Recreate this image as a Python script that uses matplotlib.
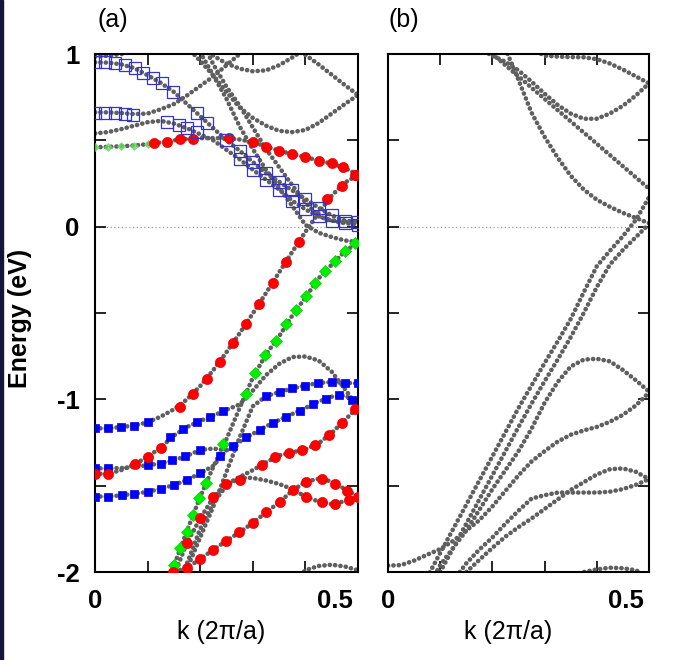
import numpy as np
import matplotlib
matplotlib.use("Agg")
import matplotlib.pyplot as plt
import matplotlib.transforms as mtransforms
from matplotlib.patches import Rectangle

plt.rcParams['font.family'] = ['Liberation Sans', 'DejaVu Sans']

n = np.nan
K = np.linspace(0, 0.5, 21)  # k grid, step 0.025

# ---------------- panel (a): bands (gray dots) ----------------
a_P = [-1.168, -1.168, -1.160, -1.152, -1.133, -1.100, -1.058, -1.000, -0.923, -0.830, -0.727,
       -0.617, -0.503, -0.385, -0.265, -0.146, -0.030, 0.080, 0.180, 0.255, 0.300]
a_X = [-1.432, -1.430, -1.410, -1.376, -1.333, -1.279, -1.210, -1.160, -1.125, -1.095, -1.060,
       -1.030, -0.950, -0.860, -0.795, -0.755, -0.752, -0.775, -0.840, -0.940, -1.045]
a_Y = [-1.400, -1.400, -1.398, -1.392, -1.381, -1.372, -1.353, -1.327, -1.293, -1.285, -1.295,
       n, n, n, n, n, n, n, n, n, n]
a_B3 = [-1.563, -1.563, -1.556, -1.547, -1.536, -1.518, -1.497, -1.466, -1.429, -1.385, -1.295,
        -1.245, -1.200, -1.157, -1.120, -1.085, -1.050, -1.013, -0.985, -0.978, -1.015]
a_D3 = [n, n, n, n, n, n, -2.16, -1.98, -1.80, -1.62, -1.42,
        -1.22, -1.04, -0.982, -0.958, -0.937, -0.920, -0.905, -0.900, -0.904, -0.908]
a_G = [n, n, n, n, n, -2.15, -1.965, -1.76, -1.565, -1.39, -1.23,
       -1.05, -0.875, -0.74, -0.635, -0.515, -0.41, -0.30, -0.22, -0.143, -0.09]
a_R3 = [n, n, n, n, n, -2.04, -2.0, -1.976, -1.925, -1.871, -1.819,
        -1.770, -1.716, -1.655, -1.597, -1.530, -1.478, -1.460, -1.475, -1.520, -1.563]
a_R5 = [n, n, n, n, n, -2.25, -2.02, -1.83, -1.69, -1.568, -1.491,
        -1.450, -1.410, -1.365, -1.325, -1.307, -1.290, -1.255, -1.195, -1.120, -1.045]
a_H = [n, n, n, n, n, n, -2.15, -1.95, -1.75, -1.60, -1.50,
       -1.455, -1.455, -1.470, -1.490, -1.520, -1.563, -1.592, -1.607, -1.590, -1.563]
a_low = [n, n, n, n, n, n, n, n, n, n, n, n, n, n, n,
         -2.06, -1.99, -1.965, -1.958, -1.968, -1.99]
a_Rt = [0.460, 0.462, 0.466, 0.470, 0.478, 0.488, 0.500, 0.508, 0.513, 0.513, 0.512,
        0.505, 0.490, 0.465, 0.440, 0.420, 0.403, 0.383, 0.365, 0.340, 0.300]
a_G2 = [0.540, 0.548, 0.565, 0.585, 0.605, 0.613, 0.597, 0.570, 0.535, 0.500, 0.445,
        0.390, 0.330, 0.272, 0.215, 0.150, 0.100, 0.060, 0.035, 0.020, 0.012]
a_S1 = [0.952, 0.950, 0.940, 0.918, 0.877, 0.833, 0.780, 0.710, 0.640, 0.570, 0.500,
        0.440, 0.375, 0.310, 0.260, 0.210, 0.160, 0.110, 0.065, 0.035, 0.025]
a_F = [0.662, 0.662, 0.658, 0.652, 0.655, 0.680, 0.710, 0.760, 0.815, 0.870, 0.935,
       1.000, 1.060, n, n, n, n, n, n, n, n]
a_A1 = [0.985, 0.990, 1.000, 1.015, 1.040, n, n, n, n, n, n, n, n, n, n, n, n, n, n, n, n]
a_U1 = [n, n, n, n, n, n, n, n, 1.05, 0.99, 0.945, 0.915, 0.900, 0.905, 0.935, 0.980, 1.030,
        n, n, n, n]
a_T = [n, n, n, n, n, n, n, n, n, n, n, n, n, n, n, 1.05, 0.995, 0.940, 0.880, 0.820, 0.763]
a_U2 = [n, n, n, n, n, n, n, 1.04, 0.960, 0.875, 0.780, 0.690, 0.630, 0.585, 0.555, 0.548,
        0.560, 0.600, 0.655, 0.710, 0.763]
a_D1 = [n, n, n, n, n, n, n, n, 1.01, 0.875, 0.740, 0.580, 0.450, 0.330, 0.225, 0.120, 0.010,
        -0.035, -0.060, -0.080, -0.090]
a_D2 = [n, n, n, n, n, n, n, n, 1.09, 0.940, 0.810, 0.700, 0.575, 0.450, 0.345, 0.240, 0.140,
        0.060, 0.035, 0.030, 0.030]
bands_a = [a_P, a_X, a_Y, a_B3, a_D3, a_G, a_R3, a_R5, a_H, a_low, a_Rt, a_G2, a_S1, a_F,
           a_A1, a_U1, a_T, a_U2, a_D1, a_D2]

# ---------------- panel (a): projected character markers ----------------
red_P_k = [0.162, 0.187, 0.212, 0.238, 0.263, 0.287, 0.312, 0.338, 0.363, 0.387, 0.442, 0.469, 0.494]
red_P_E = [-1.042, -0.967, -0.880, -0.782, -0.672, -0.561, -0.445, -0.326, -0.204, -0.086, 0.160, 0.233, 0.300]
red_Rt_k = [0.112, 0.137, 0.162, 0.187, 0.255, 0.300, 0.325, 0.349, 0.374, 0.400, 0.425, 0.450, 0.472, 0.497]
red_Rt_E = [0.484, 0.493, 0.507, 0.510, 0.513, 0.490, 0.464, 0.441, 0.422, 0.403, 0.383, 0.368, 0.345, 0.300]
red_X_k = [0.0, 0.025, 0.076, 0.101, 0.126]
red_X_E = [-1.434, -1.430, -1.376, -1.333, -1.279]
red_R3_k = [0.149, 0.174, 0.200, 0.225, 0.250, 0.274, 0.300, 0.325, 0.351, 0.377, 0.402, 0.431, 0.456, 0.479, 0.500]
red_R3_E = [-2.000, -1.979, -1.925, -1.871, -1.819, -1.771, -1.716, -1.655, -1.597, -1.524, -1.478, -1.459,
            -1.491, -1.530, -1.563]
red_H_k = [0.402, 0.431, 0.456, 0.482]
red_H_E = [-1.563, -1.597, -1.607, -1.582]
red_R5_k = [0.174, 0.200, 0.225, 0.250, 0.276, 0.317, 0.342, 0.368, 0.393, 0.418, 0.444, 0.469, 0.494]
red_R5_E = [-1.830, -1.690, -1.568, -1.491, -1.466, -1.381, -1.333, -1.312, -1.293, -1.266, -1.208, -1.135, -1.054]

blue_top_k = [0.0, 0.025, 0.05, 0.075, 0.1]
blue_top_E = [-1.168, -1.168, -1.160, -1.152, -1.133]
blue_Y_k = [0.0, 0.025, 0.100, 0.126, 0.146, 0.171, 0.200]
blue_Y_E = [-1.400, -1.400, -1.381, -1.372, -1.353, -1.327, -1.293]
blue_X_k = [0.143, 0.168, 0.193, 0.219, 0.244]
blue_X_E = [-1.221, -1.170, -1.131, -1.100, -1.067]
blue_row_k = [0.326, 0.352, 0.374, 0.399, 0.424, 0.450, 0.475, 0.500]
blue_row_E = [-0.981, -0.956, -0.937, -0.920, -0.904, -0.900, -0.904, -0.908]
blue_B3_k = [0.0, 0.025, 0.051, 0.075, 0.100, 0.126, 0.151, 0.175, 0.200, 0.238, 0.263, 0.287, 0.313,
             0.338, 0.363, 0.389, 0.414, 0.439, 0.463, 0.488]
blue_B3_E = [-1.563, -1.563, -1.556, -1.547, -1.536, -1.518, -1.497, -1.466, -1.429, -1.331, -1.270,
             -1.221, -1.179, -1.135, -1.102, -1.067, -1.029, -0.996, -0.977, -1.004]

green_G_k = [0.151, 0.162, 0.174, 0.187, 0.198, 0.211, 0.244, 0.287, 0.304, 0.323, 0.344, 0.363, 0.382,
             0.401, 0.418, 0.437, 0.456, 0.475, 0.494]
green_G_E = [-1.960, -1.863, -1.767, -1.670, -1.574, -1.482, -1.260, -0.970, -0.846, -0.746, -0.663,
             -0.566, -0.480, -0.403, -0.326, -0.258, -0.200, -0.143, -0.094]
green_Rt_k = [0.0, 0.025, 0.05, 0.075, 0.1]
green_Rt_E = [0.460, 0.462, 0.466, 0.470, 0.478]

os_S1_k = [0.0, 0.019, 0.038, 0.057, 0.076, 0.092, 0.111, 0.127, 0.149, 0.193, 0.212]
os_S1_E = [0.952, 0.952, 0.945, 0.936, 0.917, 0.888, 0.859, 0.830, 0.782, 0.657, 0.600]
os_F_k = [0.0, 0.019, 0.038, 0.057, 0.073]
os_F_E = [0.661, 0.661, 0.658, 0.655, 0.647]
os_G2_k = [0.136, 0.159, 0.174, 0.193]
os_G2_E = [0.609, 0.590, 0.571, 0.547]

# ---------------- panel (b): bands ----------------
b_U = [n, n, n, n, n, n, n, 1.03, 0.990, 0.955, 0.905, 0.840, 0.770, 0.705, 0.655, 0.625,
       0.625, 0.655, 0.700, 0.760, 0.830]
b_L1 = [n, n, n, n, n, n, n, n, 1.0, 0.935, 0.870, 0.805, 0.740, 0.675, 0.610, 0.545,
        0.480, 0.415, 0.350, 0.285, 0.220]
b_T = [n, n, n, n, n, n, n, n, n, n, n, 1.03, 0.990, 0.985, 0.982, 0.981, 0.970, 0.945, 0.910, 0.870, 0.830]
b_L2 = [n, n, n, n, n, n, n, n, n, 1.03, 0.850, 0.660, 0.520, 0.400, 0.295, 0.215, 0.156, 0.115,
        0.080, 0.050, 0.020]
b_M1 = [n, n, n, -2.03, -1.89, -1.75, -1.61, -1.47, -1.33, -1.19, -1.05, -0.92, -0.79, -0.665,
        -0.535, -0.38, -0.229, -0.14, -0.055, 0.04, 0.17]
b_M2 = [n, n, n, n, -2.0, -1.86, -1.72, -1.58, -1.44, -1.30, -1.16, -1.025, -0.895, -0.77,
        -0.64, -0.50, -0.35, -0.22, -0.135, -0.06, 0.015]
b_Hb = [n, n, n, -2.1, -1.96, -1.86, -1.76, -1.64, -1.52, -1.41, -1.30, -1.17, -1.02, -0.90,
        -0.81, -0.77, -0.765, -0.78, -0.83, -0.89, -0.955]
b_N = [-1.963, -1.960, -1.934, -1.900, -1.867, -1.820, -1.760, -1.700, -1.620, -1.530, -1.440,
       -1.360, -1.300, -1.245, -1.205, -1.180, -1.160, -1.130, -1.090, -1.035, -0.961]
b_R = [n, n, n, n, n, -2.05, -1.95, -1.87, -1.80, -1.72, -1.645, -1.575, -1.555, -1.540,
       -1.540, -1.540, -1.540, -1.535, -1.520, -1.495, -1.462]
b_S = [n, n, n, n, n, n, -2.00, -1.93, -1.86, -1.795, -1.74, -1.69, -1.635, -1.58, -1.525,
       -1.48, -1.435, -1.405, -1.400, -1.420, -1.462]
b_low = [n, n, n, n, n, n, n, n, n, n, n, n, n, n, -2.05, -2.0, -1.985, -1.975, -1.978, -1.99, -2.03]
bands_b = [b_U, b_L1, b_T, b_L2, b_M1, b_M2, b_Hb, b_N, b_R, b_S, b_low]

# ---------------- styles ----------------
dots = dict(color='#5f5f5f', lw=3.3, ls=(0, (0.05, 1.12)), dash_capstyle='round', zorder=2)
red = dict(ls='none', marker='o', ms=7.3, mfc='#ff0000', mec='#ee0000', mew=0.5, zorder=4)
blue = dict(ls='none', marker='s', ms=6.4, mfc='#0000ff', mec='#0000e8', mew=0.5, zorder=4)
green = dict(ls='none', marker='D', ms=5.8, mfc='#00ee00', mec='#00d800', mew=0.5, zorder=4)
green_l = dict(ls='none', marker='D', ms=4.5, mfc='#66dd66', mec='#66dd66', mew=0.5, zorder=4, alpha=0.8)
osq = dict(ls='none', marker='s', ms=8.0, mfc='none', mec='#3535c0', mew=0.9, zorder=5)

fig = plt.figure(figsize=(6.76, 6.6), dpi=100)
fig.patches.append(Rectangle((0, 0), 3 / 676, 1, transform=fig.transFigure,
                             color='#15153a', zorder=0))
ax_a = fig.add_axes([95 / 676, 1 - 572 / 660, 263 / 676, 518 / 660])
ax_b = fig.add_axes([388 / 676, 1 - 572 / 660, 261 / 676, 518 / 660])

for ax in (ax_a, ax_b):
    ax.set_xlim(0, 0.5)
    ax.set_ylim(-2, 1)
    ax.axhline(0, color='#9a9a9a', lw=0.9, ls=(0, (1, 2)), zorder=1)
    ax.set_xticks(np.arange(0, 0.51, 0.1))
    ax.set_xticklabels(['0', '', '', '', '', '0.5'], fontweight='bold')
    ax.set_yticks(np.arange(-2, 1.01, 0.5))
    ax.tick_params(direction='in', length=8, width=1.2, top=True, right=True,
                   labelsize=18.5)
    ax.tick_params(axis='x', pad=12)
    ax.tick_params(axis='y', pad=11)
    for sp in ax.spines.values():
        sp.set_linewidth(1.5)
    shift = mtransforms.ScaledTranslation(-4 / 72, 0, fig.dpi_scale_trans)
    lbl = ax.get_xticklabels()[-1]
    lbl.set_ha('right')
    lbl.set_transform(lbl.get_transform() + shift)

ax_a.set_yticklabels(['-2', '', '-1', '', '0', '', '1'], fontweight='bold')
ax_b.set_yticklabels([])

for E in bands_a:
    ax_a.plot(K, E, **dots)
for E in bands_b:
    ax_b.plot(K, E, **dots)

# markers on (a)
ax_a.plot(os_S1_k, os_S1_E, **osq)
ax_a.plot(os_F_k, os_F_E, **osq)
ax_a.plot(os_G2_k, os_G2_E, **osq)
ax_a.plot(K[10:], np.array(a_S1)[10:], **osq)
ax_a.plot(K[11:], np.array(a_G2)[11:], **osq)

ax_a.plot(green_Rt_k, green_Rt_E, **green_l)
ax_a.plot(green_G_k, green_G_E, **green)

ax_a.plot(blue_top_k, blue_top_E, **blue)
ax_a.plot(blue_Y_k, blue_Y_E, **blue)
ax_a.plot(blue_X_k, blue_X_E, **blue)
ax_a.plot(blue_row_k, blue_row_E, **blue)
ax_a.plot(blue_B3_k, blue_B3_E, **blue)

ax_a.plot(red_P_k, red_P_E, **red)
ax_a.plot(red_Rt_k, red_Rt_E, **red)
ax_a.plot(red_X_k, red_X_E, **red)
ax_a.plot(red_R3_k, red_R3_E, **red)
ax_a.plot(red_H_k, red_H_E, **red)
ax_a.plot(red_R5_k, red_R5_E, **red)

# texts
fig.text(97 / 676, 1 - 20 / 660, '(a)', fontsize=18, va='center', ha='left')
fig.text(389 / 676, 1 - 20 / 660, '(b)', fontsize=18, va='center', ha='left')
fig.text(20 / 676, 1 - 318 / 660, 'Energy (eV)', fontsize=18, fontweight='bold',
         rotation=90, ha='center', va='center')
fig.text(221 / 676, 1 - 632 / 660, 'k (2\u03c0/a)', fontsize=18, ha='center', va='center')
fig.text(508 / 676, 1 - 632 / 660, 'k (2\u03c0/a)', fontsize=18, ha='center', va='center')

fig.savefig('out.png', dpi=100)
